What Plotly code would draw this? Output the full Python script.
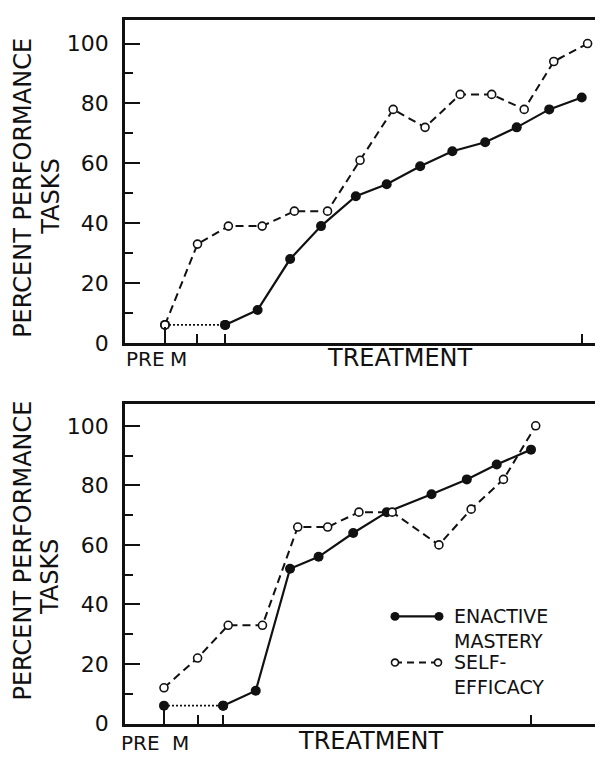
import plotly.graph_objects as go

# ---------------- data ----------------
# x = position along the time axis (PRE = 0, M = 1, then treatment sessions)
# ---- upper panel ----
top_em_pre_x = 0
top_em_pre = 6
top_em_x = [1.85, 2.85, 3.85, 4.8, 5.87, 6.82, 7.85, 8.84, 9.85, 10.82, 11.82, 12.82]
top_em = [6, 11, 28, 39, 49, 53, 59, 64, 67, 72, 78, 82]

top_se_x = [0, 1, 1.95, 2.99, 3.98, 5.0, 6.0, 7.02, 8.0, 9.08, 10.05, 11.05, 11.96, 13.0]
top_se = [6, 33, 39, 39, 44, 44, 61, 78, 72, 83, 83, 78, 94, 100]

# ---- lower panel ----
bot_em_pre_x = 0
bot_em_pre = 6
bot_em_x = [1.76, 2.73, 3.75, 4.6, 5.63, 6.63, 7.96, 9.01, 9.9, 10.92]
bot_em = [6, 11, 52, 56, 64, 71, 77, 82, 87, 92]

bot_se_x = [0, 1, 1.91, 2.93, 3.98, 4.87, 5.8, 6.79, 8.18, 9.14, 10.1, 11.06]
bot_se = [12, 22, 33, 33, 66, 66, 71, 71, 60, 72, 82, 100]

y_ticks = [0, 20, 40, 60, 80, 100]
y_minor = [10, 30, 50, 70, 90]
y_title_1 = "PERCENT PERFORMANCE"
y_title_2 = "TASKS"
x_labels = ["PRE", "M", "TREATMENT"]
legend_names = [["ENACTIVE", "MASTERY"], ["SELF-", "EFFICACY"]]

# ---------------- styling ----------------
W, H = 603, 758
INK = "#111111"
FONT = "DejaVu Sans"


def px(xp):
    return xp / W


def py(yp):
    return 1 - yp / H


fig = go.Figure()


def add_panel(xa, ya, em_pre_x, em_pre, em_x, em, se_x, se):
    # dotted link from PRE to first treatment session (enactive mastery)
    fig.add_trace(go.Scatter(
        x=[em_pre_x, em_x[0]], y=[em_pre, em[0]], xaxis=xa, yaxis=ya,
        mode="lines+markers", showlegend=False, hoverinfo="skip",
        line=dict(color=INK, width=1.8, dash="2px,2px"),
        marker=dict(size=10, color=INK)))
    fig.add_trace(go.Scatter(
        x=em_x, y=em, xaxis=xa, yaxis=ya, mode="lines+markers",
        name="ENACTIVE MASTERY", showlegend=False,
        line=dict(color=INK, width=2.2),
        marker=dict(size=10, color=INK)))
    fig.add_trace(go.Scatter(
        x=se_x, y=se, xaxis=xa, yaxis=ya, mode="lines+markers",
        name="SELF-EFFICACY", showlegend=False,
        line=dict(color=INK, width=2, dash="8px,5px"),
        marker=dict(size=8, color="white", line=dict(color=INK, width=1.6))))


add_panel("x", "y", top_em_pre_x, top_em_pre, top_em_x, top_em, top_se_x, top_se)
add_panel("x2", "y2", bot_em_pre_x, bot_em_pre, bot_em_x, bot_em, bot_se_x, bot_se)


def xaxis_cfg(rng, anchor, first_treat, last_treat):
    return dict(
        domain=[px(117), 1], range=rng, anchor=anchor,
        showline=True, linewidth=2.5, linecolor=INK, mirror=True,
        showgrid=False, zeroline=False, showticklabels=False,
        ticks="inside", tickmode="array", tickvals=[0], ticklen=16,
        tickwidth=2, tickcolor=INK,
        minor=dict(ticks="inside", tickmode="array",
                   tickvals=[1, first_treat, last_treat],
                   ticklen=9, tickwidth=2, tickcolor=INK),
        fixedrange=True)


def yaxis_cfg(dom, rng, anchor):
    return dict(
        domain=dom, range=rng, anchor=anchor,
        showline=True, linewidth=2.5, linecolor=INK,
        showgrid=False, zeroline=False,
        ticks="inside", tickmode="array", tickvals=y_ticks, ticklen=15,
        tickwidth=2, tickcolor=INK, ticklabelstandoff=9,
        tickfont=dict(family=FONT, size=22, color=INK),
        minor=dict(ticks="inside", tickmode="array", tickvals=y_minor,
                   ticklen=8, tickwidth=2, tickcolor=INK),
        fixedrange=True)


annotations = []


def add_text(text, xp, yp, size, angle=0, xanchor="center"):
    annotations.append(dict(
        text=text, x=px(xp), y=py(yp), xref="paper", yref="paper",
        showarrow=False, textangle=angle, xanchor=xanchor, yanchor="middle",
        align="left", font=dict(family=FONT, size=size, color=INK)))


# upper panel texts
add_text(y_title_1, 15, 183, 24, angle=-90)
add_text(y_title_2, 43, 192, 24, angle=-90)
add_text(x_labels[0], 137, 357, 20)
add_text(x_labels[1], 170, 357, 20)
add_text(x_labels[2], 392, 356, 24)
# lower panel texts
add_text(y_title_1, 15, 552, 24, angle=-90)
add_text(y_title_2, 42, 579, 24, angle=-90)
add_text(x_labels[0], 132, 748, 20)
add_text(x_labels[1], 172, 748, 20)
add_text(x_labels[2], 363, 746, 24)

# legend text (lower panel)
add_text("<br>".join(legend_names[0]), 444, 631, 19, xanchor="left")
add_text("<br>".join(legend_names[1]), 444, 678, 19, xanchor="left")

# legend glyphs
shapes = []


def circle(xc, yc, d, fill, lw):
    shapes.append(dict(type="circle", xref="paper", yref="paper",
                       x0=px(xc - d / 2), x1=px(xc + d / 2),
                       y0=py(yc + d / 2), y1=py(yc - d / 2),
                       fillcolor=fill, line=dict(color=INK, width=lw)))


shapes.append(dict(type="line", xref="paper", yref="paper",
                   x0=px(387), x1=px(431), y0=py(619), y1=py(619),
                   line=dict(color=INK, width=2.2)))
circle(387, 619, 9, INK, 0)
circle(431, 619, 9, INK, 0)
shapes.append(dict(type="line", xref="paper", yref="paper",
                   x0=px(387), x1=px(430), y0=py(666), y1=py(666),
                   line=dict(color=INK, width=2, dash="7px,5px")))
circle(387, 666, 7, "white", 1.6)
circle(430, 666, 7, "white", 1.6)

fig.update_layout(
    width=W, height=H,
    margin=dict(l=0, r=0, t=0, b=0),
    paper_bgcolor="white", plot_bgcolor="white",
    showlegend=False,
    xaxis=xaxis_cfg([-1.23, 13.72], "y", top_em_x[0], top_em_x[-1]),
    yaxis=yaxis_cfg([py(340.7), py(12.7)], [0, 107.7], "x"),
    xaxis2=xaxis_cfg([-1.16, 13.30], "y2", bot_em_x[0], bot_em_x[-1]),
    yaxis2=yaxis_cfg([py(728), py(402.7)], [0, 107.4], "x2"),
    annotations=annotations,
    shapes=shapes,
)

fig.write_html("out.html")
